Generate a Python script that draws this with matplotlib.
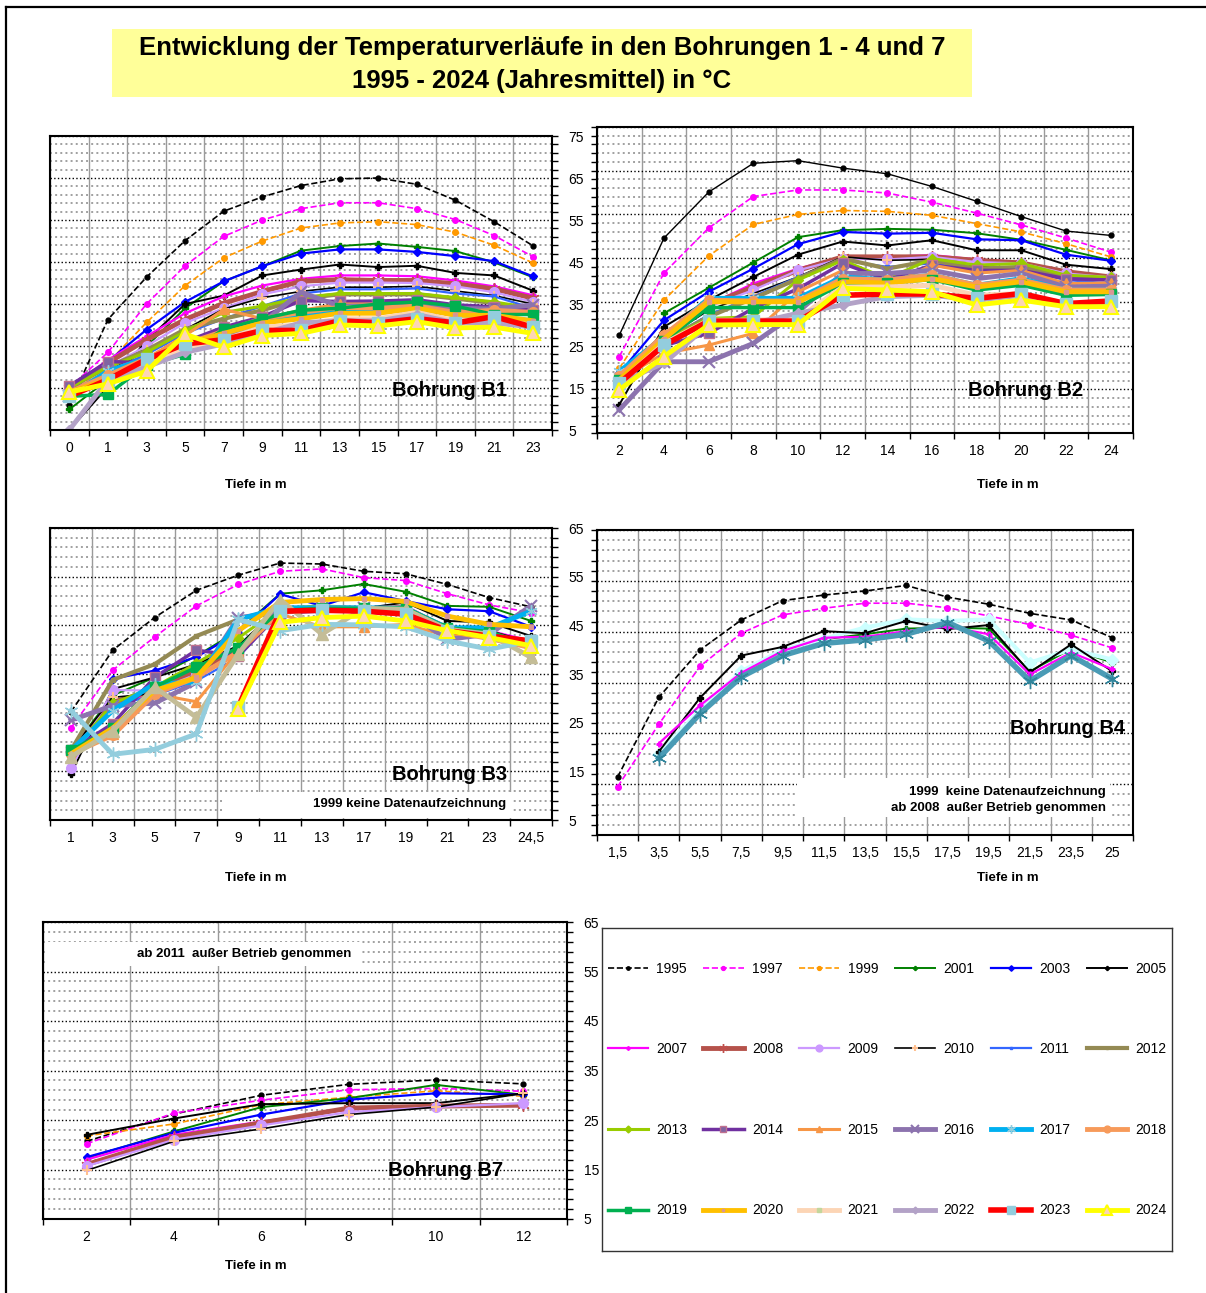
import numpy as np
import matplotlib
matplotlib.use('Agg')
import matplotlib.pyplot as plt
from matplotlib.patches import Rectangle
from matplotlib.lines import Line2D

W, H = 1206, 1293
plt.rcParams['font.family'] = ['Liberation Sans', 'DejaVu Sans']

years = ['1995', '1997', '1999', '2001', '2003', '2005', '2007', '2008', '2009', '2010',
         '2011', '2012', '2013', '2014', '2015', '2016', '2017', '2018', '2019', '2020',
         '2021', '2022', '2023', '2024']

# Bohrung B1
b1_depth = ['0', '1', '3', '5', '7', '9', '11', '13', '15', '17', '19', '21', '23']
b1_temp = {
    '1995': [11, 31.3, 41.4, 50.1, 57.1, 60.5, 63.2, 64.8, 65, 63.5, 59.7, 54.6, 48.9],
    '1997': [15, 23.5, 35, 44.1, 51.1, 55, 57.7, 59.1, 59.1, 57.7, 55.1, 51.3, 46.3],
    '1999': [14, 21, 30.6, 39.4, 46, 50, 53.1, 54.3, 54.6, 53.9, 52.1, 49, 44.8],
    '2001': [9.9, 17, 24.9, 34, 40.4, 44, 47.7, 48.8, 49.4, 48.6, 47.6, 44.9, 41.4],
    '2003': [14, 21.3, 28.9, 35.5, 40.4, 44, 47, 48, 48, 47.4, 46.4, 45.2, 41.6],
    '2005': [5, 15.3, 26.3, 35, 37, 41.8, 43.2, 44.4, 43.8, 44.1, 42.4, 41.8, 38.2],
    '2007': [15, 21.7, 27.3, 32.8, 36.8, 39.4, 41, 41.8, 41.8, 41.6, 40.6, 39.2, 37.1],
    '2008': [15, 21, 26.5, 31.3, 35.2, 38, 40.4, 40.8, 40.6, 40.6, 39.8, 38.6, 36.4],
    '2009': [15, 20, 25, 30.5, 34, 37.3, 39.2, 40.1, 40.1, 40, 39.2, 37.8, 35.5],
    '2010': [14, 19, 24, 29, 33.8, 36.5, 38, 39, 39, 39.2, 38.1, 37, 35],
    '2011': [14, 19, 23, 28, 31.5, 34.5, 37.5, 38.5, 38.5, 38.7, 37.5, 36.8, 34],
    '2012': [15, 20, 24, 29, 31.5, 33.5, 36.3, 37.3, 37.3, 37.3, 36.3, 35.2, 33.5],
    '2013': [15, 20, 23.5, 28.5, 33, 34.5, 36.5, 37.5, 37.5, 37.5, 36.5, 35.5, 34],
    '2014': [15.5, 21.3, 21, 26, 29.5, 32, 35.8, 35.6, 35.7, 36, 34.8, 34.3, 33.5],
    '2015': [14, 19, 22, 27.5, 33.7, 31.5, 33.5, 35, 35, 35.3, 34, 33.5, 33],
    '2016': [13, 19, 22, 24, 27.5, 30.5, 37.8, 34.5, 34.5, 35, 34, 33.8, 34.8],
    '2017': [13, 19, 22, 25, 28, 31, 32, 33.5, 33.5, 34, 32.5, 32, 31],
    '2018': [14, 18, 22, 25.5, 28.5, 31.5, 33, 34.2, 34, 34.5, 33, 33.5, 33],
    '2019': [13, 13.5, 20.5, 23, 29, 31.5, 33.5, 34, 35, 35.5, 34.5, 32.5, 32.5],
    '2020': [14, 17, 20.5, 25.5, 28, 30.5, 31.5, 32.8, 32.8, 34, 32.3, 32.3, 31],
    '2021': [14, 16, 20.5, 24.5, 26.5, 29.5, 30, 31.5, 31.5, 33, 31, 31, 30],
    '2022': [5, 17, 20, 23.5, 25.5, 28, 30.5, 31, 31, 32.5, 30.5, 30.5, 29.5],
    '2023': [13, 17, 21.8, 25.5, 26.5, 28.7, 28.7, 31, 30.5, 31.5, 30.5, 32, 29.5],
    '2024': [14, 16, 19, 27.8, 24.7, 27.5, 28, 30, 29.8, 30.8, 29.3, 29.5, 28],
}

# Bohrung B2
b2_depth = ['2', '4', '6', '8', '10', '12', '14', '16', '18', '20', '22', '24']
b2_temp = {
    '1995': [27.4, 49.6, 60.1, 66.7, 67.3, 65.6, 64.3, 61.4, 58, 54.5, 51.2, 50.2],
    '1997': [22.5, 41.6, 51.9, 59.1, 60.6, 60.6, 59.9, 57.8, 55.3, 52.6, 49.6, 46.4],
    '1999': [19.8, 35.4, 45.5, 52.7, 55, 55.9, 55.7, 54.8, 52.9, 51, 48.3, 45.3],
    '2001': [None, 32.4, 38.2, 44, 49.8, 51.4, 51.7, 51.5, 50.7, 49.2, 46.9, 44.5],
    '2003': [18.7, 30.8, 37.3, 42.6, 48.2, 51, 50.6, 50.8, 49.3, 49.1, 45.8, 44.4],
    '2005': [11.5, 29.3, 35.4, 40.7, 45.8, 48.8, 47.9, 49.1, 46.8, 46.8, 43.5, 42.5],
    '2007': [17.9, 27, 34.3, 39.2, 42.6, 45.3, 45.3, 45.7, 44.7, 44.1, 41.5, 40.7],
    '2008': [18, 27.4, 34.3, 38.4, 42.2, 45.3, 45.3, 45.3, 44.5, 43.9, 41.9, 40.7],
    '2009': [17.2, 26.8, 33.9, 37.7, 42.2, 44.9, 44.7, 45.3, 44.1, 43.8, 41.5, 40.6],
    '2010': [17.2, 26.5, 33.1, 36.9, 40.7, 45.3, 44.5, 44.7, 43, 43, 40.7, 40],
    '2011': [17.2, 26.1, 32, 36.2, 40.7, 44.5, 43, 43.8, 42.2, 42.2, 40, 39.2],
    '2012': [17.2, 26.1, 31.6, 35.8, 40.3, 44.9, 42.6, 44.5, 42.6, 43, 40.6, 40.1],
    '2013': [17.2, 26.1, 31.2, 31.6, 40, 44.5, 40.3, 44.9, 43.4, 43.8, 41.1, 40.6],
    '2014': [16.8, 25, 27.8, 33.5, 38, 43.8, 40, 43.4, 42.2, 42.2, 40.3, 40],
    '2015': [17.2, 23.2, 25.1, 27.8, 37.3, 42.2, 38.6, 43.4, 41.6, 42.2, 39.2, 39.3],
    '2016': [10.3, 21.3, 21.3, 25.5, 32.7, 41.5, 41.5, 42.2, 40.3, 41.5, 38.4, 38.6],
    '2017': [19.1, 27, 35.8, 35.8, 35.8, 40.7, 40, 41.1, 38.8, 40.3, 37.7, 37.7],
    '2018': [18, 27.4, 35.4, 35.2, 35.2, 40.3, 40, 41.1, 38.8, 40, 37.7, 37.7],
    '2019': [17.2, 26.1, 33.7, 33.7, 33.7, 39.2, 39.3, 40.1, 37.7, 38.8, 36.5, 36.7],
    '2020': [17.2, 26.5, 35, 35, 35, 39.6, 39.3, 40.3, 38.4, 39.6, 37.3, 37.3],
    '2021': [16.4, 25.5, 30.8, 30.8, 31.2, 38.4, 38.4, 38.8, 36.5, 36.9, 34.6, 35],
    '2022': [16.4, 21, 29.7, 30.1, 32.4, 34.3, 36.2, 36.5, 35.4, 36.5, 34.3, 34.6],
    '2023': [16.4, 25.1, 30.6, 30.6, 30.6, 36.5, 36.8, 36.8, 35.8, 36.9, 34.6, 35.2],
    '2024': [14.9, 22.5, 29.7, 29.8, 29.8, 38.1, 37.7, 37.3, 34.3, 35.4, 33.9, 33.9],
}

# Bohrung B3 (1999 keine Daten)
b3_depth = ['1', '3', '5', '7', '9', '11', '13', '17', '19', '21', '23', '24,5']
b3_temp = {
    '1995': [27.2, 39.9, 46.6, 52.2, 55.3, 57.8, 57.6, 56.1, 55.6, 53.4, 50.7, 48.8],
    '1997': [23.9, 35.8, 42.6, 49, 53.4, 56.1, 56.6, 54.8, 54.2, 51.5, 49.2, 47.6],
    '2001': [19.3, 30.6, 34.3, 38.7, 43.9, 51.5, 52.2, 53.5, 51.9, 49, 48.8, 45.9],
    '2003': [19.3, 34, 35.7, 38.5, 43.5, 51.4, 49, 51.8, 50, 48.3, 47.9, 44.7],
    '2005': [14.5, 31.9, 34.3, 37, 40.8, 48.8, 48.5, 48.5, 49.7, 45.9, 45.6, 42.8],
    '2007': [18.6, 28.5, 30.9, 35, 39.8, 48.3, 48.5, 48.6, 49, 44.5, 43.9, 41.8],
    '2008': [19.3, 29.2, 31.6, 35.7, 39.8, 47.9, 48.1, 48.1, 48.3, 44.5, 43.5, 41.1],
    '2009': [15.6, 31.7, 31.6, 34.9, 39.2, 47.8, 47.9, 48.5, 48.3, 44.4, 43.2, 41.7],
    '2010': [19.3, 30.2, 31, 34.3, 39.1, 48.1, 48.5, 48.5, 48.8, 44.4, 43.9, 41.5],
    '2011': [18.6, 28.5, 30.6, 33.6, 38.4, 47.9, 48.8, 48.5, 48.6, 44.2, 43.5, 41.1],
    '2012': [19.3, 33.8, 37, 42.8, 46.2, 48.5, 48.5, 48.5, 48.5, 44.5, 43.5, 40.8],
    '2013': [18.6, 29, 32.3, 37.2, 42.4, 48.5, 49, 48.6, 48.8, 44.4, 43.5, 40.1],
    '2014': [19.3, 24.8, 34.3, 39.9, 38.7, 47.6, 47.9, 48.1, 47.9, 44.2, 43.2, 40.4],
    '2015': [19.3, 22.7, 30.9, 29.3, 39.8, 47.3, 44.7, 44.7, 45.2, 42.8, 42.8, 38.7],
    '2016': [25.5, 28.5, 29, 33.3, 46.6, 47.6, 48.6, 48.5, 47.9, 42.1, 43.2, 49],
    '2017': [19.3, 27.5, 33, 33.3, 46.2, 48.6, 48.6, 48.6, 48.5, 44.5, 44.5, 47.9],
    '2018': [18.6, 22.4, 30.9, 34.3, 39.5, 47.8, 48.3, 48.3, 47.8, 43.8, 42.3, 40.4],
    '2019': [19.3, 23.9, 32.3, 36.4, 40.4, 48.1, 48.5, 48.5, 48.6, 44.5, 43.7, 41],
    '2020': [18.6, 23.9, 31.6, 34.3, 43.9, 49.7, 50.3, 50.5, 49.9, 46.9, 45.2, 44.7],
    '2021': [18, 23.3, 32.3, 26.1, 39.1, 50.3, 43.2, 48.5, 48.3, 44.2, 43.2, 38.4],
    '2022': [27.5, 18.5, 19.5, 22.7, 46.2, 43.9, 45.2, 45.1, 44.7, 41.8, 40.1, 41.8],
    '2023': [None, None, None, None, 28.2, 47.9, 48.1, 47.9, 47.3, 43.9, 42.8, 41.8],
    '2024': [None, None, None, None, 27.8, 45.6, 46.6, 46.9, 45.9, 43.9, 42.5, 40.8],
}

# Bohrung B4 (ab 2008 ausser Betrieb)
b4_depth = ['1,5', '3,5', '5,5', '7,5', '9,5', '11,5', '13,5', '15,5', '17,5', '19,5',
            '21,5', '23,5', '25']
b4_temp = {
    '1995': [16.4, 32.1, 41.4, 47.3, 51.1, 52.2, 53, 54.1, 51.8, 50.4, 48.6, 47.3, 43.8],
    '1997': [14.5, 26.8, 38.2, 44.7, 48.3, 49.6, 50.6, 50.6, 49.7, 48.1, 46.4, 44.3, 41.8],
    '2001': [None, 20.5, 29.3, 36.9, 41.2, 43.5, 44.5, 45.6, 45.8, 45.6, 37.2, 41.6, 38.9],
    '2003': [None, 21, 29.6, 37.2, 41.4, 43.6, 45.8, 47.4, 47.1, 47.4, 38.9, 41.5, 39.5],
    '2005': [None, 21.4, 32, 40.3, 42, 45.1, 44.7, 47.1, 45.5, 46.3, 37, 42.5, 37.2],
    '2007': [None, 23, 30.5, 36.9, 41.2, 43.8, 44, 45.1, 46, 44.5, 36.6, 40.9, 37.6],
    '2006': [None, 20.1, 28.9, 36.1, 40.3, 42.7, 43.4, 44.5, 46.8, 43.2, 35.3, 40.3, 35.7],
}

# Bohrung B7 (ab 2011 ausser Betrieb)
b7_depth = ['2', '4', '6', '8', '10', '12']
b7_temp = {
    '1995': [20.7, 26.2, 30, 32.2, 33.1, 32.3],
    '1997': [20.2, 26.4, 29, 31.1, 31.4, 30.8],
    '1999': [21.8, 24.2, 28.1, 29.6, 30.9, 29.8],
    '2001': [17.3, 22.7, 27.6, 29.4, 32.1, 30.1],
    '2003': [17.5, 22.4, 26.1, 29.1, 30.4, 30.2],
    '2005': [22, 25.3, 28.2, 28.4, 28.4, 30.4],
    '2007': [17, 22, 24.7, 27.1, 28, 27.8],
    '2008': [16, 21.5, 24.4, 27.4, 27.8, 28],
    '2009': [15.7, 21, 23.9, 26.6, 27.6, 28.4],
    '2010': [14.8, 20.7, 23.2, 26.1, 27.6, 30.4],
}

STYLE = {
    '1995': dict(color='black', ls='--', lw=1.2, marker='o', ms=3.5),
    '1997': dict(color='#FF00FF', ls='--', lw=1.2, marker='o', ms=4),
    '1999': dict(color='#FF9900', ls='--', lw=1.2, marker='o', ms=4),
    '2001': dict(color='#008000', lw=1.4, marker='P', ms=4),
    '2003': dict(color='#0000FF', lw=1.6, marker='D', ms=4),
    '2005': dict(color='black', lw=1.4, marker='P', ms=4),
    '2007': dict(color='#FF00FF', lw=1.6, marker='P', ms=3.5),
    '2008': dict(color='#B5524B', lw=3.5, marker=(6, 2, 0), ms=9, mec='#C0504D'),
    '2009': dict(color='#CC99FF', lw=1.6, marker='o', ms=7),
    '2010': dict(color='black', lw=1.2, marker='+', ms=7, mec='#FFC090', mew=1.5),
    '2011': dict(color='#3366FF', lw=1.6, marker='s', ms=2.5),
    '2012': dict(color='#948A54', lw=3, marker='s', ms=2.5),
    '2013': dict(color='#99CC00', lw=2.2, marker='D', ms=5),
    '2014': dict(color='#7030A0', lw=2.5, marker='s', ms=6.5, mfc='#8064A2', mec='#C0708F'),
    '2015': dict(color='#F79646', lw=2.2, marker='^', ms=7),
    '2016': dict(color='#8C73AE', lw=3.5, marker='x', ms=8, mew=1.5),
    '2017': dict(color='#00B0F0', lw=3.5, marker=(6, 2, 0), ms=9, mec='#93CDDD'),
    '2018': dict(color='#F79A5A', lw=3.5, marker='o', ms=7),
    '2019': dict(color='#00B050', lw=2.5, marker='s', ms=7),
    '2020': dict(color='#FFC000', lw=3.5, marker='s', ms=2.5, mfc='#D99694', mec='#D99694'),
    '2021': dict(color='#FCD5B5', lw=3.5, marker='s', ms=3.5, mfc='#C3D69B', mec='#C3D69B'),
    '2022': dict(color='#B3A2C7', lw=3.5, marker='D', ms=5),
    '2023': dict(color='#FF0000', lw=4, marker='s', ms=9, mfc='#93CDDD', mec='#93CDDD'),
    '2024': dict(color='#FFFF00', lw=3.5, marker='^', ms=10, mfc='#FCD5B5', mec='#FFFF00', mew=1.5),
}

# deviating line styles in single panels
b2_style = {'1995': dict(ls='-', lw=1)}
b3_style = {'2021': dict(color='#C4BD97', marker='^', ms=9, mfc='#C4BD97', mec='#C4BD97'),
            '2022': dict(color='#93CDDD', marker=(6, 2, 0), ms=10, mec='#93CDDD')}
b4_style = {'2003': dict(color='#CCFFFF', lw=3, marker='D', ms=6),
            '2006': dict(color='#4A9BB5', lw=4, marker=(6, 2, 0), ms=11, mec='#31859C')}


def box(l, t, r, b):
    return [l / W, 1 - b / H, (r - l) / W, (b - t) / H]


def setup(ax, labels, ymax, right):
    n = len(labels)
    ax.set_xlim(-0.5, n - 0.5)
    ax.set_ylim(5, ymax)
    ax.set_xticks(range(n))
    ax.set_xticklabels(labels, fontsize=10)
    ax.set_xticks(np.arange(-0.5, n), minor=True)
    ax.tick_params(axis='x', which='major', length=0, pad=8)
    ax.tick_params(axis='x', which='minor', length=4, width=1)
    ax.set_yticks(np.arange(5, ymax + 1, 10))
    ax.set_yticks(np.arange(5, ymax + 1, 2), minor=True)
    ax.xaxis.grid(True, which='minor', color='#9a9a9a', lw=1)
    ax.yaxis.grid(True, which='major', color='black', ls=':', lw=1)
    ax.yaxis.grid(True, which='minor', color='#a0a0a0', ls=':', lw=1.4)
    ax.set_axisbelow(True)
    if right:
        ax.yaxis.tick_right()
        ax.tick_params(axis='y', which='both', length=4, width=1, labelsize=10, pad=8)
    else:
        ax.tick_params(axis='y', which='both', length=4, width=1, labelleft=False)
    for s in ax.spines.values():
        s.set_linewidth(1.5)


def draw(ax, temps, override):
    keys = [y for y in years if y in temps] + [y for y in temps if y not in years]
    for yr in keys:
        st = dict(STYLE.get(yr, {}))
        st.update(override.get(yr, {}))
        t = np.array(temps[yr], dtype=float)
        ax.plot(np.arange(len(t)), t, **st)


fig = plt.figure(figsize=(W / 100, H / 100), dpi=100)

ax1 = fig.add_axes(box(50, 136, 552, 430))
setup(ax1, b1_depth, 75, True)
draw(ax1, b1_temp, {})

ax2 = fig.add_axes(box(597, 127, 1133, 433))
setup(ax2, b2_depth, 75, False)
draw(ax2, b2_temp, b2_style)

ax3 = fig.add_axes(box(50, 528, 552, 820))
setup(ax3, b3_depth, 65, True)
draw(ax3, b3_temp, b3_style)

ax4 = fig.add_axes(box(597, 530, 1133, 835))
setup(ax4, b4_depth, 65, False)
draw(ax4, b4_temp, b4_style)

ax7 = fig.add_axes(box(43, 922, 567, 1219))
setup(ax7, b7_depth, 65, True)
draw(ax7, b7_temp, {})

# legend
axl = fig.add_axes(box(602, 928, 1172, 1251))
axl.set_xticks([])
axl.set_yticks([])
for s in axl.spines.values():
    s.set_linewidth(1)
    s.set_color('#333333')
handles = [Line2D([], [], **STYLE[y]) for y in years]
order = [r * 6 + c for c in range(6) for r in range(4)]
axl.legend([handles[i] for i in order], [years[i] for i in order], loc='center', ncol=6,
           frameon=False, fontsize=10, handlelength=2.9, handletextpad=0.6,
           columnspacing=1.15, labelspacing=4.8, markerscale=0.7)


def ftext(x, y, s, **kw):
    fig.text(x / W, 1 - y / H, s, **kw)


def white(l, t, r, b):
    fig.add_artist(Rectangle((l / W, 1 - b / H), (r - l) / W, (b - t) / H,
                             transform=fig.transFigure, fc='white', ec='none', zorder=2))


# title
fig.add_artist(Rectangle((112 / W, 1 - 97 / H), 860 / W, 68 / H, transform=fig.transFigure,
                         fc='#FFFF99', ec='none', zorder=1))
ftext(542, 48, 'Entwicklung der Temperaturverläufe in den Bohrungen 1 - 4 und 7',
      ha='center', va='center', fontsize=18.5, fontweight='bold')
ftext(542, 81, '1995 - 2024 (Jahresmittel) in °C',
      ha='center', va='center', fontsize=18.5, fontweight='bold')

# frame
fig.add_artist(Line2D([6 / W, 6 / W], [0, 1 - 7 / H], color='black', lw=1.6,
                      transform=fig.transFigure))
fig.add_artist(Line2D([6 / W, 1], [1 - 7 / H, 1 - 7 / H], color='black', lw=1.6,
                      transform=fig.transFigure))

for x, y, s in [(450, 390, 'Bohrung B1'), (1026, 390, 'Bohrung B2'), (450, 774, 'Bohrung B3'),
                (1068, 728, 'Bohrung B4'), (446, 1170, 'Bohrung B7')]:
    ftext(x, y, s, ha='center', va='center', fontsize=14.5, fontweight='bold')

for x, y in [(256, 485), (1008, 485), (256, 878), (1008, 878), (256, 1266)]:
    ftext(x, y, 'Tiefe in m', ha='center', va='center', fontsize=9.5, fontweight='bold')

white(222, 792, 512, 818)
ftext(506, 804, '1999 keine Datenaufzeichnung', ha='right', va='center', fontsize=9.5,
      fontweight='bold', zorder=3)
white(797, 778, 1110, 817)
ftext(1106, 792, '1999  keine Datenaufzeichnung', ha='right', va='center', fontsize=9.5,
      fontweight='bold', zorder=3)
ftext(1106, 808, 'ab 2008  außer Betrieb genommen', ha='right', va='center', fontsize=9.5,
      fontweight='bold', zorder=3)
white(45, 942, 360, 966)
ftext(244, 954, 'ab 2011  außer Betrieb genommen', ha='center', va='center', fontsize=9.5,
      fontweight='bold', zorder=3)

fig.savefig('out.png', dpi=100)
